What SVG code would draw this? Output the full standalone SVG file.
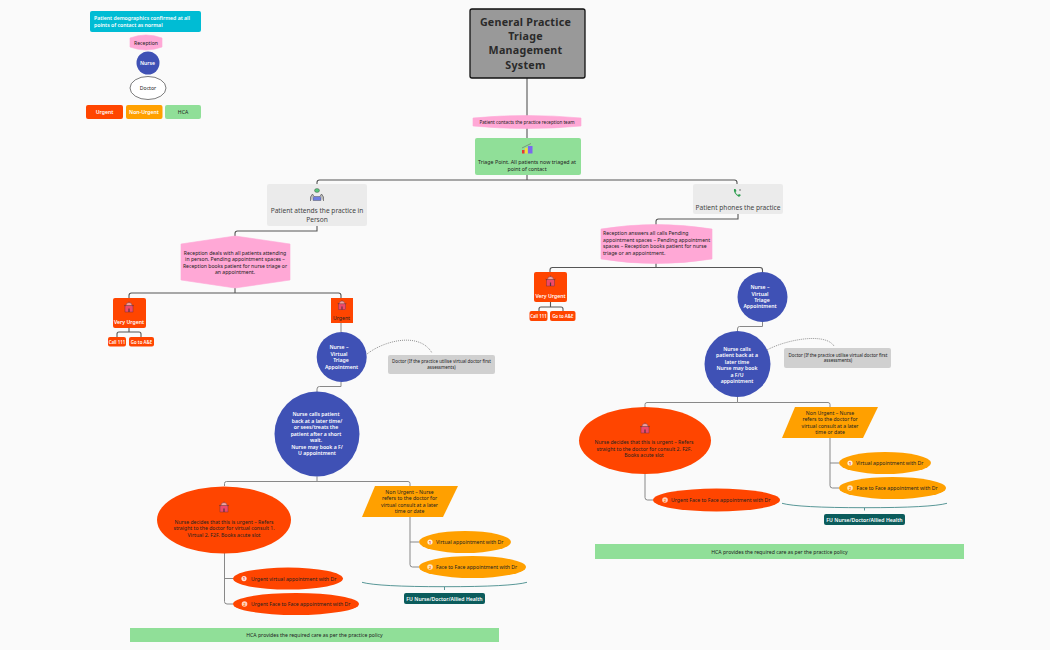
<svg xmlns="http://www.w3.org/2000/svg" width="1050" height="650" viewBox="0 0 1050 650">
<style>
text{font-family:"Noto Sans","Liberation Sans",sans-serif;font-size:5.15px;fill:#222;text-anchor:middle}
.l{text-anchor:start}
.w{fill:#fff;font-weight:600}
.p{fill:#444;font-size:6.6px}
.s{font-size:4.5px}
.xs{font-size:4.4px}
.t{font-size:10.7px;font-weight:700;fill:#2a2a2a;letter-spacing:.25px}
.c{fill:none;stroke:#888;stroke-width:1}
.d{fill:none;stroke:#555;stroke-width:1.1}
.pink{fill:#ffa8d6;stroke:#ffa8d6;stroke-width:.6;stroke-linejoin:round}.blue{fill:#3f51b5}.red{fill:#ff4500}.org{fill:#ffa000}.grn{fill:#90df98}.gry{fill:#ebebeb}.dgr{fill:#d0d0d0}.teal{fill:#0b5c5c}
.br{fill:none;stroke:#2f7d7d;stroke-width:.8}
.dash{fill:none;stroke:#666;stroke-width:.7;stroke-dasharray:1 1}
</style>
<defs>
<g id="siren"><rect x="-4" y="-2.5" width="8" height="6.5" fill="#ee4a6a" stroke="#5a3040" stroke-width=".4"/><path d="M-3-2.5a3 3 0 0 1 6 0z" fill="#f0a0a0" stroke="#5a3040" stroke-width=".4"/><path d="M-5-3l1.3 1M5-3l-1.3 1M0-6.5v1" stroke="#5a3040" stroke-width=".5"/><rect x="-.6" y=".5" width="1.2" height="3.500" fill="#5a3040"/></g>
<g id="n1"><circle r="2.600" fill="#fff" fill-opacity=".85"/><text y="1.600" style="font-size:4.200px;fill:#e53935;font-weight:700">1</text></g>
<g id="n2"><circle r="2.800" fill="#fff" fill-opacity=".75"/><text y="1.600" style="font-size:4.200px;fill:#ff7a00;font-weight:700">2</text></g>
</defs>
<rect width="1050" height="650" fill="#fafafa"/>
<g id="connectors">
<path class="d" d="M527 78V116M527 128V138M527 175V180"/>
<path class="d" d="M317 184V182.500Q317 180 319.500 180H734.500Q737 180 737 182.500V184"/>
<path class="d" d="M317 226V231H237.500Q235 231 235 233.500V236"/>
<path class="d" d="M235 288V293H131.500Q129 293 129 295.500V298M235 293H338.500Q341 293 341 295.500V298"/>
<path class="d" d="M129 328V332H119Q117 332 117 334V337M129 332H139Q141 332 141 334V337"/>
<path class="c" d="M341 323V332M341 382V386.500H319.500Q317 386.500 317 389V392"/>
<path class="c" d="M317 476.500V481.500H226.500Q224.500 481.500 224.500 483.500V486M317 481.500H408Q410 481.500 410 483.500V487"/>
<path class="c" d="M224.500 553V601.500Q224.500 604 227 604H233M224.500 578.500H233"/>
<path class="c" d="M410 517V564.500Q410 567 412.500 567H419M410 542H419"/>
<path class="d" d="M738 214V219H658.500Q656 219 656 221.500V225"/>
<path class="d" d="M656 263V267.500H552.500Q550 267.500 550 270V272M656 267.500H760Q762.500 267.500 762.500 270V272"/>
<path class="d" d="M550.500 302V307H541Q539 307 539 309V311M550.500 307H561Q563 307 563 309V311"/>
<path class="c" d="M762.500 322V326.500H739.500Q737.500 326.500 737.500 329V331"/>
<path class="c" d="M737.500 397V402.500H647Q645 402.500 645 404.500V407M737.500 402.500H828Q830 402.500 830 404.500V407"/>
<path class="c" d="M645 474V497.500Q645 500 647.500 500H653"/>
<path class="c" d="M830 438V485.500Q830 488 832.500 488H839M830 463H839"/>
<path class="dash" d="M367 354C385 340 420 332 432 353"/>
<path class="dash" d="M767 350C785 340 825 332 834 346"/>
<path class="br" d="M362 582.300Q378 586.700 444.500 586.700T527 582.300M444.500 586.700V590"/>
<path class="br" d="M782 503.300Q798 507.700 864.500 507.700T947 503.300M864.500 507.700V510.500"/>
</g>
<g id="legend-demographics"><rect x="90" y="11" width="111" height="21" rx="2" fill="#00bcd4"/><text class="l w" x="94" y="19.500">Patient demographics confirmed at all</text><text class="l w" x="94" y="26.500">points of contact as normal</text></g>
<g id="legend-reception"><path class="pink" d="M130 38Q146 32 162 38V47Q146 53 130 47Z"/><text x="146" y="44.500">Reception</text></g>
<g id="legend-nurse"><circle class="blue" cx="148" cy="63" r="11.500"/><text class="w" x="147.500" y="65">Nurse</text></g>
<g id="legend-doctor"><ellipse cx="148" cy="88" rx="18" ry="11.500" fill="#fff" stroke="#444" stroke-width=".7"/><text x="148" y="90">Doctor</text></g>
<g id="legend-urgent"><rect class="red" x="86" y="105" width="37" height="14" rx="2"/><text class="w" x="104.500" y="114">Urgent</text></g>
<g id="legend-nonurgent"><rect class="org" x="126" y="105" width="36.500" height="14" rx="2"/><text class="w" x="144" y="114">Non-Urgent</text></g>
<g id="legend-hca"><rect class="grn" x="165" y="105" width="36" height="14" rx="2"/><text x="183" y="114">HCA</text></g>
<g id="title"><rect x="470" y="9" width="115" height="69" rx="2" fill="#999" stroke="#111" stroke-width="1.300"/><text class="t" x="525.500" y="26">General Practice</text><text class="t" x="525.500" y="40">Triage</text><text class="t" x="525.500" y="54">Management</text><text class="t" x="525.500" y="68.500">System</text></g>
<g id="contact"><path class="pink" d="M473 118Q527 113 581 118V126Q527 131 473 126Z"/><text x="527" y="123.500" style="font-size:4.600px">Patient contacts the practice reception team</text></g>
<g id="triage"><rect class="grn" x="475" y="138" width="106" height="37" rx="2"/><path d="M522 150h2.500v3.500H522z" fill="#e53935"/><path d="M525 148h2.500v5.500H525z" fill="#fdd835"/><path d="M528 146h4.500v7.500H528z" fill="#7b68ee"/><path d="M522 148l9-4.500" stroke="#666" stroke-width=".6"/><text x="527" y="164" style="font-size:5.300px">Triage Point. All patients now triaged at</text><text x="527" y="171" style="font-size:5.300px">point of contact</text></g>
<g id="attend"><rect class="gry" x="267" y="184" width="100" height="42" rx="2"/><rect x="313" y="196.500" width="8" height="4" fill="#6d7fe0" stroke="#444" stroke-width=".4"/><ellipse cx="317" cy="190.500" rx="2.500" ry="2" fill="#57c47a" stroke="#444" stroke-width=".4"/><path d="M310.500 201v-4l2-3 1.500 2.500M323.500 201v-4l-2-3-1.500 2.500" fill="#bbb" stroke="#444" stroke-width=".6"/><text class="p" x="317" y="213">Patient attends the practice in</text><text class="p" x="317" y="222">Person</text></g>
<g id="phones"><rect class="gry" x="693" y="184" width="90" height="30" rx="2"/><path d="M734 189q-1 4 5 8l2-2-2-1-1 1q-2-1-2.500-3l1-1-1-2z" fill="#2e9e4f"/><circle cx="740" cy="190" r="1" fill="#999"/><text class="p" x="738" y="209.500">Patient phones the practice</text></g>
<g id="reception-left"><path class="pink" d="M181 244L235 236 290 244V280L235 288 181 280Z"/><text x="235" y="254.500">Reception deals with all patients attending</text><text x="235" y="261">in person. Pending appointment spaces –</text><text x="235" y="267.700">Reception books patient for nurse triage or</text><text x="235" y="274">an appointment.</text></g>
<g id="very-urgent-left"><rect class="red" x="113" y="298" width="33" height="30" rx="2"/><use href="#siren" x="129" y="308"/><text class="w" x="129" y="323.500">Very Urgent</text></g>
<g id="call-left"><rect class="red" x="108" y="337" width="18" height="9.500" rx="2"/><text class="w xs" x="117" y="343.500">Call 111</text></g>
<g id="ae-left"><rect class="red" x="129" y="337" width="25" height="9.500" rx="2"/><text class="w xs" x="141.500" y="343.500">Go to A&amp;E</text></g>
<g id="urgent-left"><rect class="red" x="331" y="298" width="22" height="25"/><use href="#siren" x="342" y="306" transform="translate(34.200 30.600) scale(.9)"/><text x="341.500" y="319.500">Urgent</text></g>
<g id="nurse-virtual-left"><circle class="blue" cx="341.700" cy="357" r="25"/><text class="w" x="339" y="349">Nurse –</text><text class="w" x="339" y="355.500">Virtual</text><text class="w" x="341" y="362">Triage</text><text class="w" x="341.500" y="368.500">Appointment</text></g>
<g id="doctor-left"><rect class="dgr" x="388" y="355" width="107" height="19" rx="2"/><text class="s" x="441.500" y="362.800">Doctor (If the practice utilise virtual doctor first</text><text class="s" x="441.500" y="368.800">assessments)</text></g>
<g id="nurse-calls-left"><circle class="blue" cx="317" cy="434" r="42.500"/><text class="w" x="316" y="416">Nurse calls patient</text><text class="w" x="317" y="422.500">back at a later time/</text><text class="w" x="316" y="429">or sees/treats the</text><text class="w" x="316" y="435.500">patient after a short</text><text class="w" x="316" y="442">wait.</text><text class="w" x="317" y="448.500">Nurse may book a  F/</text><text class="w" x="317" y="455">U appointment</text></g>
<g id="urgent-decide-left"><ellipse class="red" cx="224" cy="520" rx="67" ry="33.500"/><use href="#siren" x="224" y="508"/><text x="224" y="523.500">Nurse decides that this is urgent – Refers</text><text x="224" y="530">straight to the doctor for virtual consult 1.</text><text x="224" y="536.500">Virtual 2. F2F. Books acute slot</text></g>
<g id="urgent-virtual"><ellipse class="red" cx="288" cy="578.600" rx="55" ry="11"/><use href="#n1" x="244" y="578.600"/><text class="l" x="251" y="580.500">Urgent virtual appointment with Dr</text></g>
<g id="urgent-f2f-left"><ellipse class="red" cx="296" cy="604" rx="63" ry="11"/><use href="#n2" x="244.500" y="604"/><text class="l" x="251" y="606">Urgent Face to Face appointment with Dr</text></g>
<g id="non-urgent-left"><path class="org" d="M375 486H458L443 517H362Z"/><text x="409.500" y="493.500">Non Urgent – Nurse</text><text x="409.500" y="500">refers to the doctor for</text><text x="409.500" y="506.500">virtual consult at a later</text><text x="409.500" y="513">time or date</text></g>
<g id="virtual-left"><ellipse class="org" cx="465" cy="542" rx="46" ry="11"/><use href="#n1" x="430" y="542"/><text class="l" x="436" y="544">Virtual appointment with Dr</text></g>
<g id="f2f-left"><ellipse class="org" cx="472.500" cy="567" rx="53.500" ry="11"/><use href="#n2" x="430" y="567"/><text class="l" x="436" y="569">Face to Face appointment with Dr</text></g>
<g id="fu-left"><rect class="teal" x="404" y="593" width="81" height="11" rx="2"/><text class="w" x="444.500" y="600.500">FU Nurse/Doctor/Allied Health</text></g>
<g id="hca-left"><rect class="grn" x="130" y="628" width="369" height="14"/><text x="314.500" y="637">HCA provides the required care as per the practice policy</text></g>
<g id="reception-right"><path class="pink" d="M601 229Q656 220 712 229V259Q656 268 601 259Z"/><text class="l" x="603" y="234.800">Reception answers all calls Pending</text><text class="l" x="603" y="241.500">appointment spaces – Pending appointment</text><text class="l" x="603" y="248">spaces – Reception books patient for nurse</text><text class="l" x="603" y="254.500">triage or an appointment.</text></g>
<g id="very-urgent-right"><rect class="red" x="534" y="272" width="33" height="30" rx="2"/><use href="#siren" x="550.500" y="282"/><text class="w" x="550.500" y="298">Very Urgent</text></g>
<g id="call-right"><rect class="red" x="529.500" y="311" width="18" height="10" rx="2"/><text class="w xs" x="538.500" y="317.500">Call 111</text></g>
<g id="ae-right"><rect class="red" x="550" y="311" width="25.500" height="10" rx="2"/><text class="w xs" x="562.800" y="317.500">Go to A&amp;E</text></g>
<g id="nurse-virtual-right"><circle class="blue" cx="762.500" cy="297" r="25"/><text class="w" x="760" y="289">Nurse –</text><text class="w" x="760" y="295.500">Virtual</text><text class="w" x="762" y="302">Triage</text><text class="w" x="760" y="308">Appointment</text></g>
<g id="nurse-calls-right"><circle class="blue" cx="737.500" cy="364" r="33"/><text class="w" x="737" y="350.500">Nurse calls</text><text class="w" x="737" y="357">patient back at a</text><text class="w" x="737" y="363.500">later time</text><text class="w" x="737" y="370">Nurse may book</text><text class="w" x="737" y="376.500">a  F/U</text><text class="w" x="737" y="382.500">appointment</text></g>
<g id="doctor-right"><rect class="dgr" x="784" y="348" width="107" height="20" rx="2"/><text class="s" x="838" y="356.500">Doctor (If the practice utilise virtual doctor first</text><text class="s" x="838" y="362">assessments)</text></g>
<g id="urgent-decide-right"><ellipse class="red" cx="645" cy="440.500" rx="66" ry="33.500"/><use href="#siren" x="645" y="429"/><text x="644" y="444">Nurse decides that this is urgent – Refers</text><text x="644" y="450.500">straight to the doctor for consult 2. F2F.</text><text x="644" y="457">Books acute slot</text></g>
<g id="urgent-f2f-right"><ellipse class="red" cx="716.500" cy="500" rx="63.500" ry="11.500"/><use href="#n2" x="665" y="500"/><text class="l" x="671" y="502">Urgent Face to Face appointment with Dr</text></g>
<g id="non-urgent-right"><path class="org" d="M795 407H878L863 438H782Z"/><text x="830" y="414.500">Non Urgent – Nurse</text><text x="830" y="421">refers to the doctor for</text><text x="830" y="427.500">virtual consult at a later</text><text x="830" y="434">time or date</text></g>
<g id="virtual-right"><ellipse class="org" cx="885" cy="463" rx="46" ry="11"/><use href="#n1" x="850" y="463"/><text class="l" x="856" y="465">Virtual appointment with Dr</text></g>
<g id="f2f-right"><ellipse class="org" cx="892.500" cy="488" rx="53.500" ry="11"/><use href="#n2" x="850" y="488"/><text class="l" x="856.500" y="490">Face to Face appointment with Dr</text></g>
<g id="fu-right"><rect class="teal" x="824" y="514" width="81" height="11" rx="2"/><text class="w" x="864.500" y="521.500">FU Nurse/Doctor/Allied Health</text></g>
<g id="hca-right"><rect class="grn" x="595" y="544" width="369" height="15"/><text x="779.500" y="553.500">HCA provides the required care as per the practice policy</text></g>
</svg>
